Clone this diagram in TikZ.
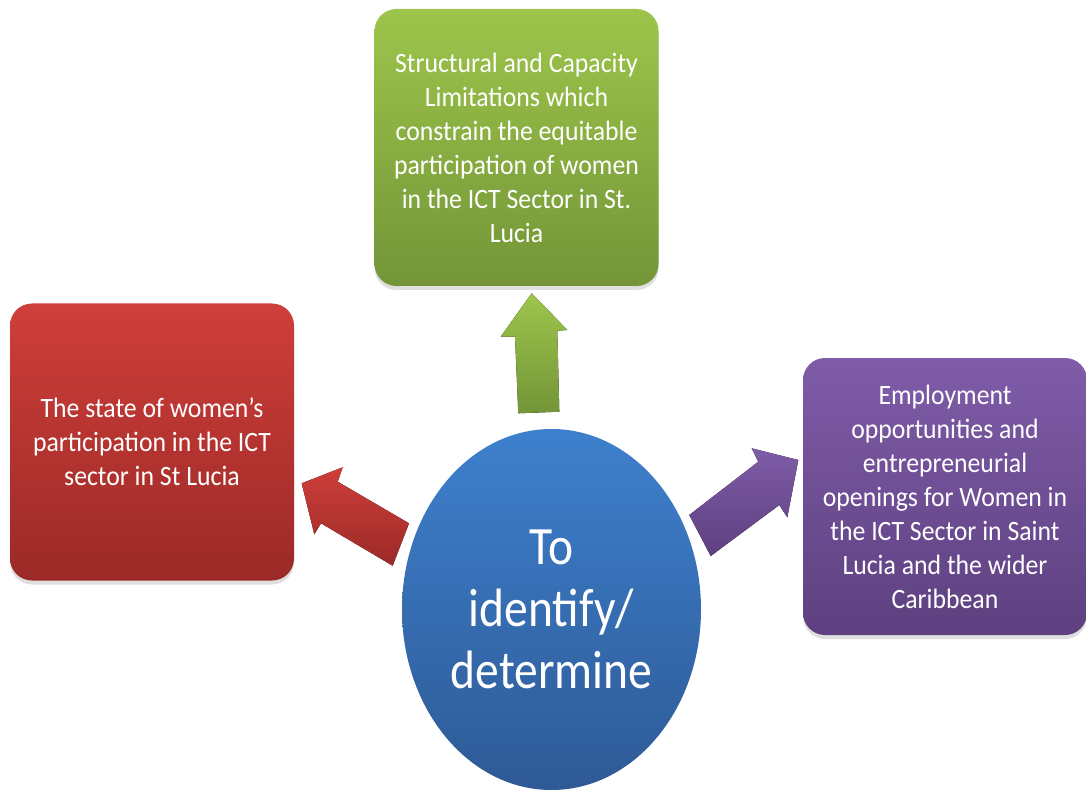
\documentclass[tikz,border=0pt]{standalone}
\usepackage{fontspec}
\setmainfont{Carlito}[FakeStretch=0.88]
\newfontfamily\boxfont{Carlito}[FakeStretch=0.92]
\usetikzlibrary{shadows,shapes.geometric}
\definecolor{redT}{HTML}{CF3E3A}
\definecolor{redB}{HTML}{9B2A27}
\definecolor{grnT}{HTML}{9DC54B}
\definecolor{grnB}{HTML}{739538}
\definecolor{purT}{HTML}{7F5CA8}
\definecolor{purB}{HTML}{5E4080}
\definecolor{bluT}{HTML}{3E80CD}
\definecolor{bluB}{HTML}{2E5A96}
\tikzset{
  box/.style={rounded corners=22pt, minimum width=284pt, minimum height=277pt,
    text=white, align=center, font=\boxfont\fontsize{28}{34}\selectfont,
    drop shadow={opacity=0.25, shadow xshift=0pt, shadow yshift=-4pt}},
  core/.style={ellipse, minimum width=299pt, minimum height=361pt, inner sep=0pt,
    top color=bluT, bottom color=bluB, text=white, align=center,
    font=\fontsize{54}{62}\selectfont},
  blockarrow/.style={draw=none}
}
\begin{document}
\begin{tikzpicture}[x=1pt,y=-1pt]
\useasboundingbox (0,0) rectangle (1086,791);
\node[box, top color=redT, bottom color=redB] (red) at (152,442)
  {The state of women’s\\participation in the ICT\\sector in St Lucia};
\node[box, top color=grnT, bottom color=grnB] (green) at (516.5,147.5)
  {Structural and Capacity\\Limitations which\\constrain the equitable\\participation of women\\in the ICT Sector in St.\\Lucia};
\node[box, top color=purT, bottom color=purB] (purple) at (945,496.5)
  {Employment\\opportunities and\\entrepreneurial\\openings for Women in\\the ICT Sector in Saint\\Lucia and the wider\\Caribbean};
\node[core] (center) at (551.5,609.5) {To\\identify/\\determine};
% block arrows
\fill[blockarrow, top color=grnT, bottom color=grnB]
  (518.3,413.3) -- (559.3,411.7) -- (557.3,330.7) -- (567.3,330) -- (531.7,293.3)
  -- (500.7,336.7) -- (515,336.7) -- cycle;
\fill[blockarrow, top color=redT, bottom color=redB]
  (301.7,483.3) -- (342.7,467.3) -- (337.7,481.7) -- (409,523.3) -- (392.7,565.7)
  -- (321,523.3) -- (314.3,534.3) -- cycle;
\fill[blockarrow, top color=purT, bottom color=purB]
  (798.3,460) -- (751.7,448.3) -- (758.3,461.7) -- (689.3,515) -- (710.7,556)
  -- (779.3,505) -- (787.3,517.3) -- cycle;
\end{tikzpicture}
\end{document}
